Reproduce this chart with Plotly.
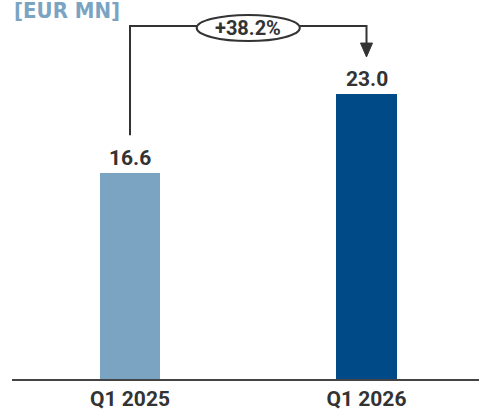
import plotly.graph_objects as go

categories = ["Q1 2025", "Q1 2026"]
values = [16.6, 23.0]
value_labels = ["16.6", "23.0"]
growth_label = "+38.2%"
unit_title = "[EUR MN]"
bar_colors = ["#7ba4c3", "#004b87"]

x_pos = [0, 1]

fig = go.Figure()
fig.add_trace(go.Bar(x=x_pos, y=values, width=0.254, marker=dict(color=bar_colors, line=dict(width=0)),
                     hoverinfo="skip"))

# value labels
for xp, v, lab in zip(x_pos, values, value_labels):
    fig.add_annotation(x=xp, y=v, text=f"<b>{lab}</b>", showarrow=False, yanchor="bottom", yshift=1,
                       font=dict(family="Roboto", size=21, color="#333333"))

# connector
top_y = max(values) + 5.45
left_start = values[0] + 3.05
arrow_tip = values[1] + 2.95
line_style = dict(color="#333333", width=2)
fig.add_shape(type="path",
              path=f"M {x_pos[0]},{left_start} L {x_pos[0]},{top_y} L {x_pos[1]},{top_y} L {x_pos[1]},{arrow_tip + 1.1}",
              line=line_style, xref="x", yref="y")
hw = 0.0254
fig.add_shape(type="path",
              path=f"M {x_pos[1]-hw},{arrow_tip + 1.12} L {x_pos[1]+hw},{arrow_tip + 1.12} L {x_pos[1]},{arrow_tip} Z",
              fillcolor="#333333", line=dict(color="#333333", width=1), xref="x", yref="y")
mid = (x_pos[0] + x_pos[1]) / 2
ell_c = top_y - 0.17
fig.add_shape(type="circle", x0=mid - 0.218, x1=mid + 0.218, y0=ell_c - 1.05, y1=ell_c + 1.05,
              fillcolor="white", line=line_style, xref="x", yref="y")
fig.add_annotation(x=mid, y=ell_c, text=f"<b>{growth_label}</b>", showarrow=False,
                   font=dict(family="Roboto", size=20, color="#333333"))

# title
fig.add_annotation(xref="paper", yref="paper", x=0, y=1, xanchor="left", yanchor="bottom", xshift=0, yshift=-25,
                   text=f"<b>{unit_title}</b>", showarrow=False,
                   font=dict(family="DejaVu Sans Condensed, Roboto, sans-serif", size=22, color="#7ba4c3"))

fig.update_xaxes(range=[-0.499, 1.4757], tickvals=x_pos, ticktext=[f"<b>{c}</b>" for c in categories],
                 showgrid=False, zeroline=False, showline=True, linecolor="#444444", linewidth=1.5,
                 ticks="", automargin=False,
                 tickfont=dict(family="Roboto", size=21, color="#333333"), fixedrange=True)
fig.update_yaxes(range=[0, 30.54], visible=False, showgrid=False, zeroline=False, fixedrange=True,
                 automargin=False)

fig.update_layout(width=479, height=409, margin=dict(l=12, r=0, t=0, b=30), plot_bgcolor="white",
                  paper_bgcolor="white", showlegend=False, bargap=0)

fig.write_html("out.html", config={"displayModeBar": False})
